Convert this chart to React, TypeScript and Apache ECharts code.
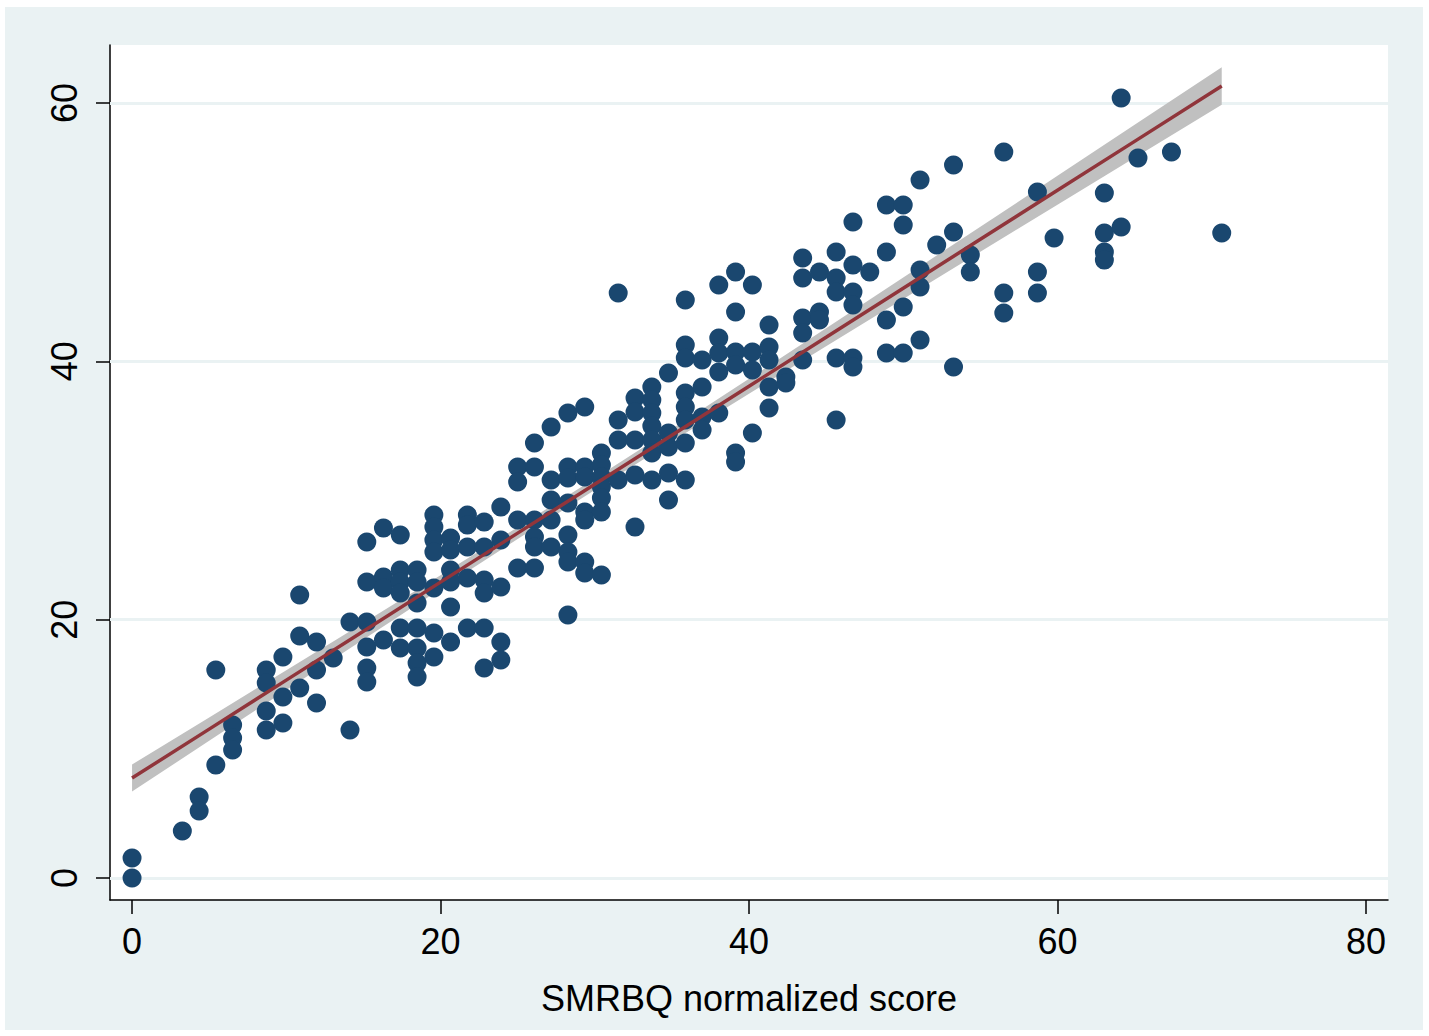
import React, { useEffect, useRef } from 'react';
import * as echarts from 'echarts';

// SMRBQ normalized score columns (x) and the outcome values observed in each column (y)
const columnX = [0, 3.26, 4.35, 5.43, 6.52, 8.70, 9.78, 10.87, 11.96, 13.04, 14.13, 15.22, 16.30, 17.39, 18.48, 19.57, 20.65, 21.74, 22.83, 23.91, 25.00, 26.09, 27.17, 28.26, 29.35, 30.43, 31.52, 32.61, 33.70, 34.78, 35.87, 36.96, 38.04, 39.13, 40.22, 41.30, 42.39, 43.48, 44.57, 45.65, 46.74, 47.83, 48.91, 50.00, 51.09, 52.17, 53.26, 54.35, 56.52, 58.70, 59.78, 63.04, 64.13, 65.22, 67.39, 70.65];

const columnY: number[][] = [
  [1.55, 0],
  [3.64],
  [6.27, 5.19],
  [16.10, 8.75],
  [11.85, 10.84, 9.91],
  [16.10, 15.10, 12.93, 11.46],
  [17.11, 14.01, 12.00],
  [21.91, 18.74, 14.71],
  [18.27, 16.10, 13.55],
  [17.03],
  [19.82, 11.46],
  [26.01, 22.92, 19.82, 17.88, 16.26, 15.17],
  [27.10, 23.30, 22.45, 18.43],
  [26.56, 23.85, 22.92, 22.06, 19.36, 17.81],
  [23.85, 22.92, 21.29, 19.36, 17.81, 16.65, 15.56],
  [28.10, 27.17, 26.17, 25.24, 22.45, 18.97, 17.11],
  [26.32, 25.39, 23.85, 22.92, 20.98, 18.27],
  [28.10, 27.33, 25.63, 23.23, 19.36],
  [27.56, 25.63, 23.07, 22.06, 19.36, 16.26],
  [28.72, 26.17, 22.53, 18.27, 16.88],
  [31.82, 30.66, 27.72, 24.00],
  [33.68, 31.82, 27.72, 26.40, 25.63, 24.00],
  [34.92, 30.81, 29.26, 27.72, 25.63],
  [36.00, 31.82, 30.97, 29.03, 26.56, 25.24, 24.46, 20.36],
  [36.47, 31.82, 31.05, 28.34, 27.72, 24.46, 23.61],
  [32.90, 31.97, 31.05, 30.27, 29.42, 28.34, 23.46],
  [45.29, 35.46, 33.91, 30.81],
  [37.16, 36.08, 33.91, 31.20, 27.17],
  [38.01, 37.01, 36.00, 34.99, 33.91, 32.90, 30.81],
  [39.10, 34.45, 33.37, 31.35, 29.26],
  [44.75, 41.26, 40.26, 37.55, 36.47, 35.46, 33.68, 30.81],
  [40.10, 38.01, 35.69, 34.68],
  [45.91, 41.81, 40.65, 39.17, 36.00],
  [46.92, 43.82, 40.72, 39.72, 32.90, 32.21],
  [45.91, 40.72, 39.33, 34.45],
  [42.81, 41.11, 40.10, 38.01, 36.39],
  [38.79, 38.32],
  [48.00, 46.45, 43.36, 42.19, 40.10],
  [46.92, 43.82, 43.20],
  [48.46, 46.45, 45.37, 40.26, 35.46],
  [50.79, 47.46, 45.37, 44.36, 40.26, 39.56],
  [46.92],
  [52.10, 48.46, 43.20, 40.65],
  [52.10, 50.55, 44.21, 40.65],
  [54.04, 47.07, 45.75, 41.65],
  [49.01],
  [55.20, 50.01, 39.56],
  [48.23, 46.92],
  [56.21, 45.29, 43.74],
  [53.11, 46.92, 45.29],
  [49.55],
  [53.03, 49.94, 48.46, 47.84],
  [60.39, 50.40],
  [55.74],
  [56.21],
  [49.94],
];

// Fitted line with 95% confidence band
const fitX = [0, 5, 10, 15, 20, 25, 30, 35, 40, 45, 50, 55, 60, 65, 70.65];
const fitY = [7.74, 11.53, 15.32, 19.11, 22.91, 26.70, 30.49, 34.28, 38.07, 41.86, 45.66, 49.45, 53.24, 57.03, 61.31];
const ciLow = [6.69, 10.63, 14.56, 18.47, 22.38, 26.24, 30.04, 33.79, 37.49, 41.16, 44.83, 48.48, 52.12, 55.76, 59.86];
const ciHigh = [8.79, 12.43, 16.08, 19.75, 23.44, 27.16, 30.94, 34.77, 38.65, 42.56, 46.49, 50.42, 54.36, 58.31, 62.76];

const xTicks = [0, 20, 40, 60, 80];
const yTicks = [0, 20, 40, 60];

const FONT = '"Liberation Sans", Arial, sans-serif';

export default function App() {
  const ref = useRef<HTMLDivElement>(null);

  useEffect(() => {
    if (!ref.current) return;
    const chart = echarts.init(ref.current, null, { renderer: 'svg' });

    const points: number[][] = [];
    columnX.forEach((x, i) => {
      columnY[i].forEach((y) => points.push([x, y]));
    });

    const option: any = {
      animation: false,
      backgroundColor: '#EAF2F3',
      textStyle: { fontFamily: FONT },
      grid: {
        left: 105,
        top: 38,
        right: 35,
        bottom: 130,
        show: true,
        backgroundColor: '#FFFFFF',
        borderWidth: 0,
      },
      xAxis: {
        type: 'value',
        min: -1.43,
        max: 81.43,
        axisLine: { show: true, onZero: false, lineStyle: { color: '#000', width: 1.5 } },
        axisTick: { show: true, customValues: xTicks, length: 14, lineStyle: { color: '#000', width: 1.5 } },
        axisLabel: { customValues: xTicks, fontSize: 36, color: '#000', margin: 23, fontFamily: FONT },
        splitLine: { show: false },
        name: 'SMRBQ normalized score',
        nameLocation: 'middle',
        nameGap: 80,
        nameTextStyle: { fontSize: 36, color: '#000', fontFamily: FONT },
      },
      yAxis: {
        type: 'value',
        min: -1.7,
        max: 64.49,
        axisLine: { show: true, onZero: false, lineStyle: { color: '#000', width: 1.5 } },
        axisTick: { show: true, customValues: yTicks, length: 14, lineStyle: { color: '#000', width: 1.5 } },
        axisLabel: { customValues: yTicks, rotate: 90, fontSize: 36, color: '#000', margin: 28, fontFamily: FONT },
        splitLine: { show: false },
      },
      series: [
        {
          type: 'scatter',
          data: points,
          symbol: 'circle',
          symbolSize: 19,
          itemStyle: { color: '#1A476F', opacity: 1 },
          markLine: {
            z: 1,
            silent: true,
            symbol: 'none',
            label: { show: false },
            lineStyle: { color: '#EAF2F3', width: 3, type: 'solid' },
            data: yTicks.map((v) => ({ yAxis: v })),
          },
        },
        {
          type: 'custom',
          data: [[0, 0]],
          encode: { x: 0, y: 1 },
          renderItem: (params: any, api: any) => {
            if (params.dataIndex !== 0) return null;
            const pts: number[][] = [];
            for (let i = 0; i < fitX.length; i++) pts.push(api.coord([fitX[i], ciHigh[i]]));
            for (let i = fitX.length - 1; i >= 0; i--) pts.push(api.coord([fitX[i], ciLow[i]]));
            return { type: 'polygon', shape: { points: pts }, style: { fill: '#C0C0C0' } };
          },
        },
        {
          type: 'line',
          data: fitX.map((x, i) => [x, fitY[i]]),
          showSymbol: false,
          symbol: 'none',
          lineStyle: { color: '#90353B', width: 3.5 },
        },
      ],
    };

    chart.setOption(option);
    return () => chart.dispose();
  }, []);

  return (
    <div style={{ position: 'fixed', left: 0, top: 0, width: 1429, height: 1036, background: '#FFFFFF' }}>
      <div ref={ref} style={{ position: 'absolute', left: 5, top: 7, width: 1418, height: 1023 }} />
    </div>
  );
}
